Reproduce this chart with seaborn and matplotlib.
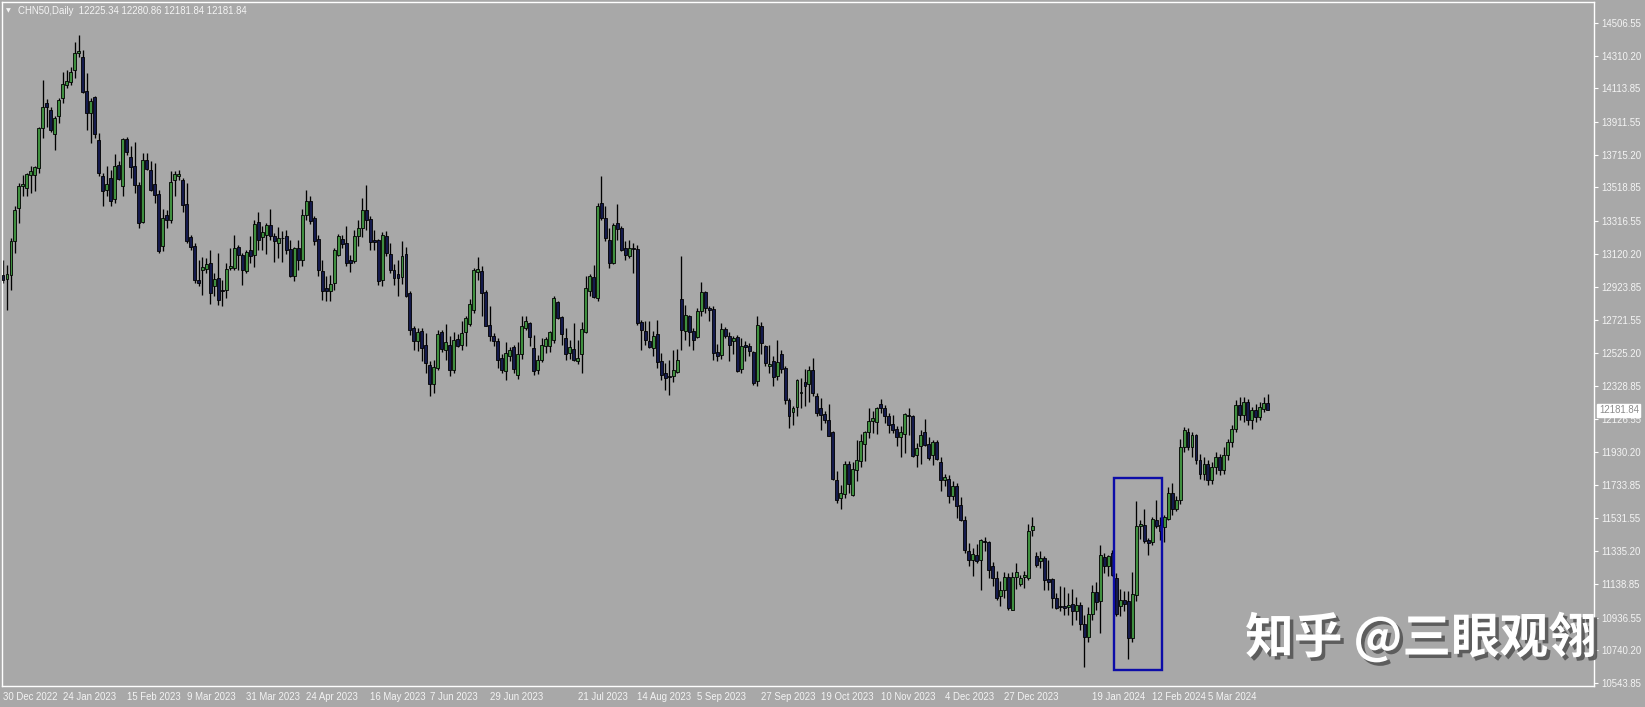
import numpy as np
import pandas as pd
import seaborn as sns
import matplotlib
matplotlib.use("Agg")
import matplotlib.pyplot as plt
from matplotlib import patheffects
from matplotlib.patches import Rectangle

# ---------------- data (daily OHLC, CHN50) ----------------
open_ = [
 12995,12969,12995,13195,13395,13529,13515,13591,13595,13635,13875,14029,13985,13841,13949,14055,14135,14155,14225,14325,
 14301,14101,13965,14065,13805,13589,13505,13575,13449,13653,13525,13813,13701,13649,13535,13313,13681,13625,13541,13479,
 13165,13355,13321,13565,13585,13561,13421,13221,13169,12965,
 13025,13029,13065,12925,12975,12905,12905,13035,13035,13161,13115,13019,13141,13111,13309,13221,13235,13295,13229,13185,
 13213,13229,13149,12989,13155,13085,13355,13435,13335,13209,13019,12915,12895,12945,13115,13209,13185,13085,13075,13229,
 13275,13381,13329,13205,13205,12961,13229,13121,13025,13001,12981,13121,12885,12675,
 12595,12655,12575,12455,12341,12435,12649,12545,12575,12425,12609,12575,12649,12701,12785,13009,13015,12889,12695,12625,
 12595,12495,12415,12509,12561,12395,12521,12675,12705,12555,12425,12481,12565,12565,12605,12829,12741,12615,12525,12549,
 12475,12521,12649,12895,12981,12855,13425,13335,13205,13065,13305,13275,13155,13105,13155,13149,
 12709,12655,12595,12555,12641,12475,12405,12385,12385,12409,12849,12655,12745,12655,12621,12775,12889,12795,12789,12529,
 12515,12669,12625,12595,12621,12429,12575,12565,12529,12355,12689,12565,12445,12475,12385,12521,12435,12245,12169,12201,
 12285,12349,12341,12421,12269,12195,12161,12125,12049,11761,11655,11681,11861,11675,
 11825,11875,11981,12049,12115,12109,12221,12195,12145,12101,12069,12021,12041,12155,12149,11915,11965,12049,11981,11915,
 11989,11869,11765,11769,11665,11729,11615,11525,11335,11285,11315,11285,11397,11389,11249,11175,11069,11105,11181,10985,
 11181,11141,11181,11175,11465,11305,11275,11295,11169,11169,11055,11009,11005,10999,11021,
 10975,11010,10900,10820,10960,11090,
 11035,11301,11249,11325,11175,11005,11045,11035,10815,11075,11485,11495,11405,11389,11521,11495,11481,11529,11685,11589,
 11640,
 11960,12050,11960,12030,11880,11800,11860,11760,11840,11900,11820,11910,11990,12070,12210,12150,12230,12120,12180,12140,
 12190,12225.34]

high = [
 13085,13055,13215,13405,13545,13595,13605,13645,13649,13885,14165,14049,14005,13949,14055,14215,14225,14245,14395,14435,
 14345,14205,14055,14069,13845,13605,13645,13625,13721,13675,13815,13821,13769,13795,13549,13725,13725,13675,13665,13505,
 13389,13385,13615,13615,13621,13575,13545,13235,13185,13085,
 13101,13095,13141,13005,13125,12965,13065,13155,13235,13175,13125,13141,13229,13321,13369,13285,13305,13389,13245,13281,
 13255,13261,13205,13161,13205,13389,13505,13465,13345,13235,13081,12985,12995,13155,13241,13235,13285,13115,13265,13325,
 13455,13535,13345,13265,13209,13249,13255,13185,13061,13085,13195,13161,12895,12685,
 12675,12675,12645,12475,12485,12661,12661,12701,12629,12649,12641,12715,12749,12849,13035,13101,13045,12905,12805,12645,
 12615,12521,12589,12561,12575,12589,12749,12745,12709,12635,12515,12615,12621,12655,12865,12835,12745,12675,12605,12705,
 12605,12709,12989,13001,13055,13425,13589,13405,13275,13305,13421,13285,13195,13205,13185,13175,
 12721,12715,12715,12655,12721,12525,12465,12485,12541,12549,13105,12815,12755,12675,12795,12949,12895,12805,12805,12581,
 12705,12681,12649,12629,12635,12615,12595,12585,12535,12745,12709,12575,12575,12505,12605,12541,12445,12255,12209,12369,
 12375,12429,12449,12495,12285,12255,12175,12221,12055,11815,11735,11875,11875,11869,
 12001,12041,12055,12195,12175,12201,12249,12215,12165,12155,12085,12085,12165,12195,12155,11985,12065,12129,12021,12005,
 12001,11901,11801,11795,11755,11745,11661,11545,11385,11355,11381,11409,11421,11395,11269,11215,11155,11209,11205,11209,
 11265,11195,11215,11501,11541,11329,11335,11305,11285,11175,11085,11125,11121,11085,11109,
 11060,11030,10950,11000,11130,11150,
 11375,11325,11315,11345,11205,11109,11095,11095,11209,11635,11521,11589,11415,11541,11645,11540,11555,11721,11745,11665,
 12010,
 12080,12075,12050,12040,11920,11900,11880,11870,11930,11920,11960,12010,12090,12240,12260,12260,12250,12200,12220,12230,
 12260,12280.86]

low = [
 12945,12785,12905,13125,13305,13465,13465,13485,13495,13605,13815,13885,13855,13745,13905,14025,14115,14135,14175,14305,
 14085,13865,13785,13815,13585,13405,13465,13405,13425,13565,13465,13715,13575,13485,13275,13305,13625,13495,13425,13125,
 13135,13275,13305,13469,13565,13369,13185,13145,12945,12925,
 12875,13005,12821,12865,12811,12805,12855,13025,13025,13025,12935,13005,13065,13041,13145,13141,13121,13205,13069,13095,
 13069,13121,12981,12955,13025,13045,13325,13301,13175,12985,12845,12835,12835,12905,13105,13155,13045,13009,13065,13165,
 13221,13265,13145,13141,12935,12929,13105,13005,12935,12865,12941,12861,12635,12545,
 12535,12475,12405,12265,12285,12425,12529,12481,12389,12405,12561,12545,12565,12685,12765,12965,12745,12685,12595,12565,
 12435,12405,12365,12475,12405,12369,12489,12665,12565,12395,12401,12469,12525,12529,12585,12729,12575,12485,12489,12475,
 12461,12405,12645,12865,12855,12835,13325,13195,13035,13061,13205,13135,13085,13095,13005,12695,
 12545,12575,12555,12509,12435,12365,12305,12275,12349,12405,12545,12605,12565,12541,12615,12745,12765,12715,12485,12475,
 12489,12615,12475,12521,12409,12405,12475,12505,12335,12329,12521,12445,12405,12329,12365,12405,12221,12075,12095,12145,
 12195,12205,12229,12265,12149,12061,12105,12025,11761,11625,11589,11655,11685,11665,
 11755,11841,11875,12015,12045,12041,12165,12105,12045,12045,11965,11901,11925,12035,11901,11841,11861,11965,11885,11855,
 11885,11695,11725,11625,11645,11535,11515,11325,11245,11185,11265,11105,11335,11175,11125,11045,11005,11055,10985,10981,
 11109,11125,11115,11165,11425,11241,11235,11105,11105,10995,10989,10975,10955,10955,10895,
 10920,10860,10640,10790,10920,10980,
 10845,11205,11185,11185,10945,10945,10975,10685,10789,11035,11409,11385,11315,11375,11475,11400,11389,11525,11555,11575,
 11620,
 11930,11940,11900,11860,11770,11760,11730,11740,11800,11790,11800,11880,11960,12050,12120,12110,12090,12070,12110,12120,
 12170,12181.84]

close = [
 12965,12999,13195,13385,13529,13541,13599,13615,13639,13875,14005,14001,13865,13935,14045,14139,14161,14215,14325,14339,
 14095,13965,14041,13841,13605,13495,13541,13435,13649,13569,13809,13731,13641,13535,13305,13685,13629,13505,13471,13135,
 13335,13325,13549,13601,13601,13415,13195,13161,12961,12945,
 13041,13061,12885,12971,12845,12895,13029,13049,13155,13111,13021,13129,13105,13301,13205,13249,13295,13229,13195,13215,
 13217,13141,12985,13155,13081,13355,13435,13315,13195,13025,12895,12895,12941,13145,13229,13181,13065,13065,13229,13275,
 13385,13325,13189,13189,12955,13235,13125,13025,12975,12975,13105,12865,12665,12595,
 12649,12555,12465,12341,12441,12641,12549,12589,12425,12601,12565,12645,12735,12821,13021,13029,12885,12689,12625,12595,
 12481,12425,12525,12541,12429,12521,12689,12715,12621,12415,12485,12575,12609,12649,12855,12735,12641,12521,12561,12485,
 12495,12669,12915,12985,12861,13409,13335,13215,13065,13295,13269,13145,13115,13155,13149,12705,
 12661,12605,12561,12625,12469,12395,12375,12381,12421,12481,12661,12755,12649,12605,12775,12889,12795,12781,12525,12505,
 12669,12625,12575,12615,12415,12565,12561,12535,12345,12695,12585,12465,12461,12381,12469,12429,12245,12145,12195,12361,
 12293,12325,12421,12285,12165,12155,12125,12029,11769,11641,11685,11861,11741,11829,
 11881,11995,12049,12115,12135,12195,12195,12145,12095,12061,12021,12049,12161,12149,11909,11955,12035,11975,11895,11989,
 11889,11765,11781,11665,11729,11609,11525,11341,11281,11321,11275,11401,11393,11225,11175,11055,11101,11181,10995,11181,
 11209,11175,11195,11455,11485,11255,11295,11165,11149,11055,10995,11001,10997,11015,10975,
 11010,10900,10820,10960,11090,11030,
 11315,11249,11305,11195,10961,11045,11021,10815,11081,11489,11499,11395,11385,11529,11489,11455,11541,11685,11589,11645,
 11960,
 12060,11960,12030,11880,11800,11860,11760,11840,11900,11820,11910,11990,12070,12210,12150,12230,12120,12180,12140,12200,
 12225,12181.84]

tick_labels = ["30 Dec 2022", "24 Jan 2023", "15 Feb 2023", "9 Mar 2023", "31 Mar 2023", "24 Apr 2023",
               "16 May 2023", "7 Jun 2023", "29 Jun 2023", "21 Jul 2023", "14 Aug 2023", "5 Sep 2023",
               "27 Sep 2023", "19 Oct 2023", "10 Nov 2023", "4 Dec 2023", "27 Dec 2023", "19 Jan 2024",
               "12 Feb 2024", "5 Mar 2024"]
tick_bars = [0, 15, 31, 46, 61, 76, 92, 107, 122, 144, 159, 174, 190, 205, 220, 236, 251, 273, 288, 302]

price_ticks = [14506.55, 14310.20, 14113.85, 13911.55, 13715.20, 13518.85, 13316.55, 13120.20, 12923.85,
               12721.55, 12525.20, 12328.85, 12126.55, 11930.20, 11733.85, 11531.55, 11335.20, 11138.85,
               10936.55, 10740.20, 10543.85]

header = "CHN50,Daily  12225.34 12280.86 12181.84 12181.84"
last_price = 12181.84
box_bars = (278.5, 290.5)
box_prices = (10622.0, 11775.0)
watermark = "知乎 @三眼观翎"

# ---------------- style ----------------
BG = "#a8a8a8"
UP = "#3f8f3f"
DOWN = "#141a4c"
FG = "#f4f4f4"

sns.set_theme(style="dark", rc={"axes.facecolor": BG, "figure.facecolor": BG,
                                "axes.edgecolor": "white", "axes.grid": False})
plt.rcParams["font.family"] = ["Liberation Sans", "DejaVu Sans"]

W, H = 1645, 707
fig = plt.figure(figsize=(W / 100, H / 100), dpi=100)
ax = fig.add_axes([2 / W, (H - 686) / H, (1594 - 2) / W, (686 - 2) / H])

df = pd.DataFrame({"o": open_, "h": high, "l": low, "c": close})
df["x"] = np.arange(len(df))
df["up"] = df["c"] >= df["o"]
df["bottom"] = df[["o", "c"]].min(axis=1)
df["height"] = (df["c"] - df["o"]).abs().clip(lower=3)

ax.vlines(df["x"], df["l"], df["h"], colors="black", linewidth=0.95, zorder=2)
for is_up, color in [(True, UP), (False, DOWN)]:
    sub = df[df["up"] == is_up]
    ax.bar(sub["x"], sub["height"], bottom=sub["bottom"], width=0.74,
           color=color, edgecolor="black", linewidth=0.6, zorder=3)

ax.add_patch(Rectangle((box_bars[0], box_prices[0]), box_bars[1] - box_bars[0],
                       box_prices[1] - box_prices[0], fill=False,
                       edgecolor="#0c0ca8", linewidth=1.7, zorder=5))

ax.set_xlim(-0.25, 398.75)
ax.set_ylim(10525.8, 14632.6)

for s in ax.spines.values():
    s.set_color("white")
    s.set_linewidth(1.0)

ax.yaxis.tick_right()
ax.set_yticks(price_ticks)
ax.set_yticklabels([f"{v:.2f}" for v in price_ticks])
ax.set_xticks(tick_bars)
ax.set_xticklabels(tick_labels, ha="left")
ax.tick_params(axis="both", colors="white", labelcolor=FG, labelsize=6.9,
               length=3, width=0.8, direction="out")
ax.tick_params(axis="y", pad=2.5)
ax.tick_params(axis="x", pad=1.5)
ax.set_xlabel("")
ax.set_ylabel("")

# current price label
ax.annotate(f"{last_price:.2f}", xy=(1.0, last_price), xycoords=ax.get_yaxis_transform(),
            xytext=(3.5, 0), textcoords="offset points", ha="left", va="center",
            fontsize=6.9, color="#8c8c8c", zorder=10, annotation_clip=False,
            bbox=dict(boxstyle="square,pad=0.15", fc="white", ec="white"))

# header
fig.text(6 / W, 1 - 11 / H, "▼", fontsize=4.5, color=FG, va="center", ha="left",
         family=["DejaVu Sans"])
fig.text(18 / W, 1 - 11 / H, header, fontsize=6.9, color=FG, va="center", ha="left")

# watermark
fig.text(1421 / W, 1 - 638 / H, watermark, fontsize=35, fontweight="bold", color="white",
         ha="center", va="center", family=["Noto Sans CJK SC", "DejaVu Sans"], zorder=20,
         path_effects=[patheffects.withSimplePatchShadow(offset=(2.5, -2.5),
                                                         shadow_rgbFace="#555555", alpha=0.9)])

fig.savefig("out.png", dpi=100, facecolor=BG)
